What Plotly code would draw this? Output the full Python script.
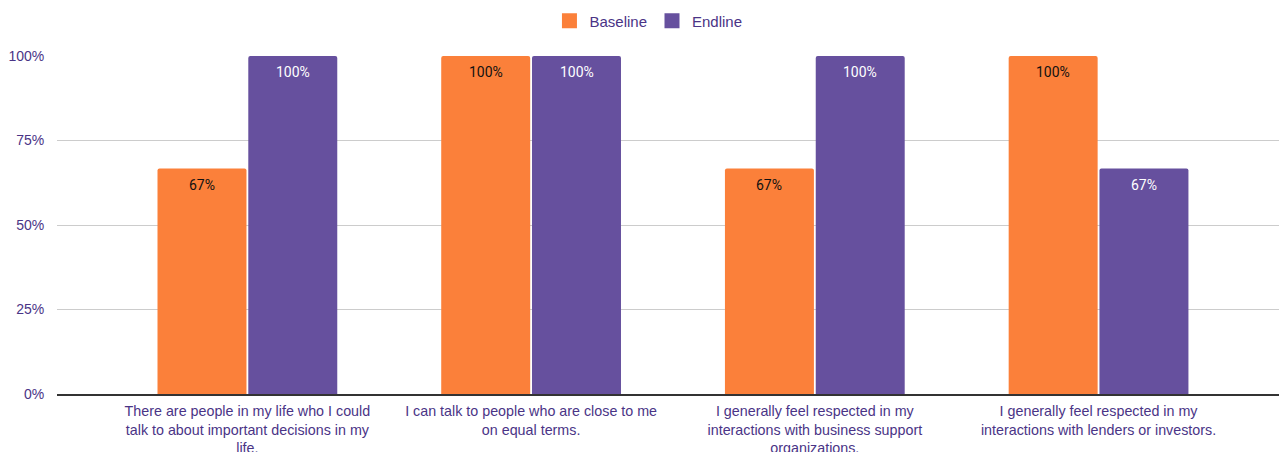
import plotly.graph_objects as go

categories = [
    "There are people in my life who I could<br>talk to about important decisions in my<br>life.",
    "I can talk to people who are close to me<br>on equal terms.",
    "I generally feel respected in my<br>interactions with business support<br>organizations.",
    "I generally feel respected in my<br>interactions with lenders or investors.",
]
baseline = [0.667, 1.0, 0.667, 1.0]
endline = [1.0, 1.0, 1.0, 0.667]

ORANGE = "#FB803A"
PURPLE = "#66509E"
LABEL = "#4A3486"

series = [
    ("Baseline", baseline, ORANGE, "#111111", -45.4),
    ("Endline", endline, PURPLE, "#FFFFFF", 45.4),
]

fig = go.Figure()
for name, vals, color, txtcolor, dx in series:
    fig.add_trace(go.Bar(
        name=name, x=categories, y=vals, marker_color=color,
        marker_line_width=0, marker_cornerradius=2, showlegend=False,
        hoverinfo="x+y",
    ))
    # legend entry with a larger square swatch
    fig.add_trace(go.Scatter(
        name=name, x=[None], y=[None], mode="markers",
        marker=dict(symbol="square", size=15, color=color),
        showlegend=True,
    ))
    # value labels placed just inside the top of each bar
    for cat, v in zip(categories, vals):
        fig.add_annotation(
            x=cat, y=v, text=f"{v:.0%}", showarrow=False,
            xshift=dx, yshift=-16, yanchor="middle",
            font=dict(family="Roboto", size=14, color=txtcolor),
        )

fig.update_layout(
    width=1279, height=452,
    margin=dict(l=57, r=0, t=56, b=58),
    paper_bgcolor="white", plot_bgcolor="white",
    barmode="group", bargap=0.36, bargroupgap=0.02,
    font=dict(family="Liberation Sans", size=14, color=LABEL),
    legend=dict(orientation="h", x=0.507, xanchor="center", xref="container",
                y=0.99, yanchor="top", yref="container",
                font=dict(size=15, color=LABEL),
                itemclick=False, itemwidth=30, tracegroupgap=0),
)
fig.update_xaxes(
    type="category", range=[-0.671, 3.636], showgrid=False,
    showline=True, linecolor="#333333", linewidth=1.5,
    tickfont=dict(size=14.3, color=LABEL), automargin=False,
    ticks="outside", ticklen=3, tickcolor="rgba(0,0,0,0)",
)
fig.update_yaxes(
    range=[0, 1], tickvals=[0, 0.25, 0.5, 0.75, 1.0],
    ticktext=["0%", "25%", "50%", "75%", "100%"],
    showgrid=True, gridcolor="#CCCCCC", gridwidth=1,
    zeroline=False, showline=False, automargin=False,
    ticks="outside", ticklen=9, tickcolor="rgba(0,0,0,0)",
    tickfont=dict(size=14, color=LABEL),
)

fig.write_html("out.html")
